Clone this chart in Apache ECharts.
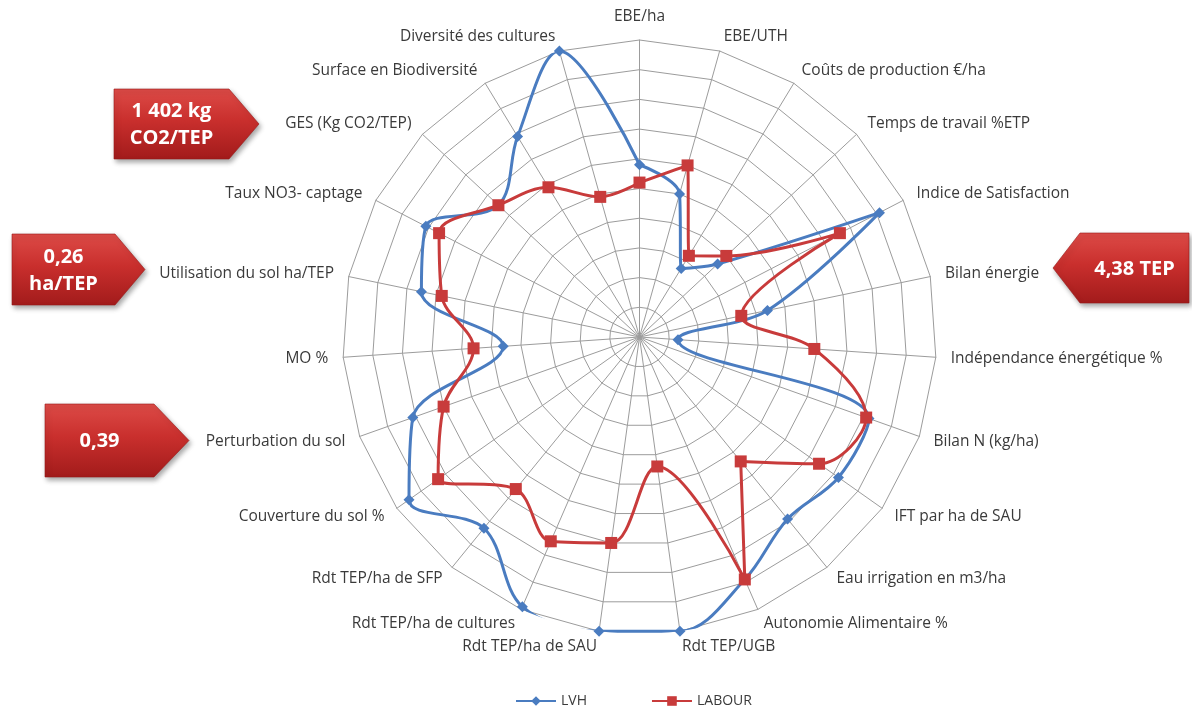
<!DOCTYPE html>
<html>
<head>
<meta charset="utf-8">
<script src="https://cdn.jsdelivr.net/npm/echarts@6/dist/echarts.min.js"></script>
<style>
  html, body { margin: 0; padding: 0; background: #ffffff; }
  #chart { width: 1192px; height: 711px; }
</style>
</head>
<body>
<div id="chart"></div>
<script>
// Indicators, listed clockwise starting from the top spoke
const categories = [
  'EBE/ha', 'EBE/UTH', 'Coûts de production €/ha', 'Temps de travail %ETP',
  'Indice de Satisfaction', 'Bilan énergie', 'Indépendance énergétique %',
  'Bilan N (kg/ha)', 'IFT par ha de SAU', 'Eau irrigation en m3/ha',
  'Autonomie Alimentaire %', 'Rdt TEP/UGB', 'Rdt TEP/ha de SAU',
  'Rdt TEP/ha de cultures', 'Rdt TEP/ha de SFP', 'Couverture du sol %',
  'Perturbation du sol', 'MO %', 'Utilisation du sol ha/TEP',
  'Taux NO3- captage', 'GES (Kg CO2/TEP)', 'Surface en Biodiversité',
  'Diversité des cultures'
];

// Scores on a 0–100 scale, same order as the categories
const lvh    = [58, 50, 27, 36, 91, 44, 13, 82, 82, 79, 89, 100, 100, 99, 83, 95, 81, 46, 75, 81, 65, 79, 100];
const labour = [52, 60, 32, 40, 76, 35, 59, 81, 74, 54, 89, 44, 70, 75, 66, 83, 70, 56, 68, 76, 65, 59, 49];

const scaleMax = 100;
const seriesNames = ['LVH', 'LABOUR'];

// Reference values shown in the red arrow boxes
const calloutGES = ['1 402 kg', 'CO2/TEP'];
const calloutSol = ['0,26', 'ha/TEP'];
const calloutPerturbation = ['0,39'];
const calloutEnergie = ['4,38 TEP'];

const BLUE = '#4a7cc0';
const RED = '#c83b3b';
const GRID = '#9c9c9c';
const TEXT = '#3a3a3a';
const FONT = '"Open Sans", "Noto Sans", sans-serif';

const cx = 639.5, cy = 337, R = 297;

// The radar component runs counter-clockwise, so feed it the categories in
// reverse (keeping the first at the top) to read clockwise.
const radarOrder = [0].concat(categories.map((_, i) => i).slice(1).reverse());
const indicators = radarOrder.map(i => ({ name: categories[i], min: 0, max: scaleMax }));

// Polar points [radius, angleIndex], closed back onto the first spoke
function loop(values) {
  const pts = values.map((v, i) => [v, i]);
  pts.push({ value: [values[0], values.length], symbol: 'none' });
  return pts;
}

function redGradient() {
  return new echarts.graphic.LinearGradient(0, 0, 0, 1, [
    { offset: 0, color: '#dd4b47' },
    { offset: 0.45, color: '#c92f2d' },
    { offset: 1, color: '#a21b1b' }
  ]);
}

// Pentagon arrow box; dir = 1 points right, -1 points left
function arrowBox(x0, y0, x1, y1, tip, dir, lines) {
  const my = (y0 + y1) / 2;
  const pts = dir > 0
    ? [[x0, y0], [x1, y0], [tip, my], [x1, y1], [x0, y1]]
    : [[x1, y0], [x0, y0], [tip, my], [x0, y1], [x1, y1]];
  const tx = (x0 + x1) / 2;
  return [
    {
      type: 'polygon',
      shape: { points: pts },
      style: {
        fill: redGradient(),
        stroke: '#981a1a',
        lineWidth: 0.6,
        shadowBlur: 5,
        shadowOffsetX: 2,
        shadowOffsetY: 3,
        shadowColor: 'rgba(0,0,0,0.35)'
      },
      z: 10
    },
    {
      type: 'text',
      style: {
        text: lines.join('\n'),
        x: tx,
        y: my + 1,
        fill: '#ffffff',
        font: 'bold 20px ' + FONT,
        align: 'center',
        verticalAlign: 'middle',
        textAlign: 'center',
        textVerticalAlign: 'middle',
        lineHeight: 27
      },
      z: 11
    }
  ];
}

const chart = echarts.init(document.getElementById('chart'), null, { renderer: 'canvas' });

chart.setOption({
  backgroundColor: '#ffffff',
  animation: false,
  textStyle: { fontFamily: FONT },
  legend: {
    data: seriesNames,
    left: 510,
    top: 689,
    itemWidth: 40,
    itemHeight: 12,
    itemGap: 64,
    textStyle: { color: TEXT, fontSize: 14, fontFamily: FONT }
  },
  radar: {
    center: [cx, cy],
    radius: R,
    startAngle: 90,
    splitNumber: 10,
    shape: 'polygon',
    nameGap: 15,
    indicator: indicators,
    axisName: { color: TEXT, fontSize: 15.5, fontFamily: FONT },
    axisLine: { lineStyle: { color: GRID, width: 1 } },
    splitLine: { lineStyle: { color: GRID, width: 1 } },
    splitArea: { show: false },
    z: 1
  },
  polar: { center: [cx, cy], radius: R },
  angleAxis: {
    type: 'value', min: 0, max: categories.length,
    startAngle: 90, clockwise: true, show: false
  },
  radiusAxis: { type: 'value', min: 0, max: scaleMax, show: false },
  series: [
    {
      name: seriesNames[0],
      type: 'line',
      coordinateSystem: 'polar',
      data: loop(lvh),
      smooth: 0.35,
      symbol: 'diamond',
      symbolSize: 11,
      lineStyle: { color: BLUE, width: 3 },
      itemStyle: { color: BLUE },
      z: 5
    },
    {
      name: seriesNames[1],
      type: 'line',
      coordinateSystem: 'polar',
      data: loop(labour),
      smooth: 0.35,
      symbol: 'rect',
      symbolSize: 12,
      lineStyle: { color: RED, width: 3 },
      itemStyle: { color: RED },
      z: 6
    }
  ],
  graphic: [].concat(
    arrowBox(114, 89, 229, 159, 259, 1, calloutGES),
    arrowBox(12, 234, 115, 305, 145, 1, calloutSol),
    arrowBox(45, 404, 154, 477, 189, 1, calloutPerturbation),
    arrowBox(1080, 233, 1189, 303, 1053, -1, calloutEnergie)
  )
});
</script>
</body>
</html>
